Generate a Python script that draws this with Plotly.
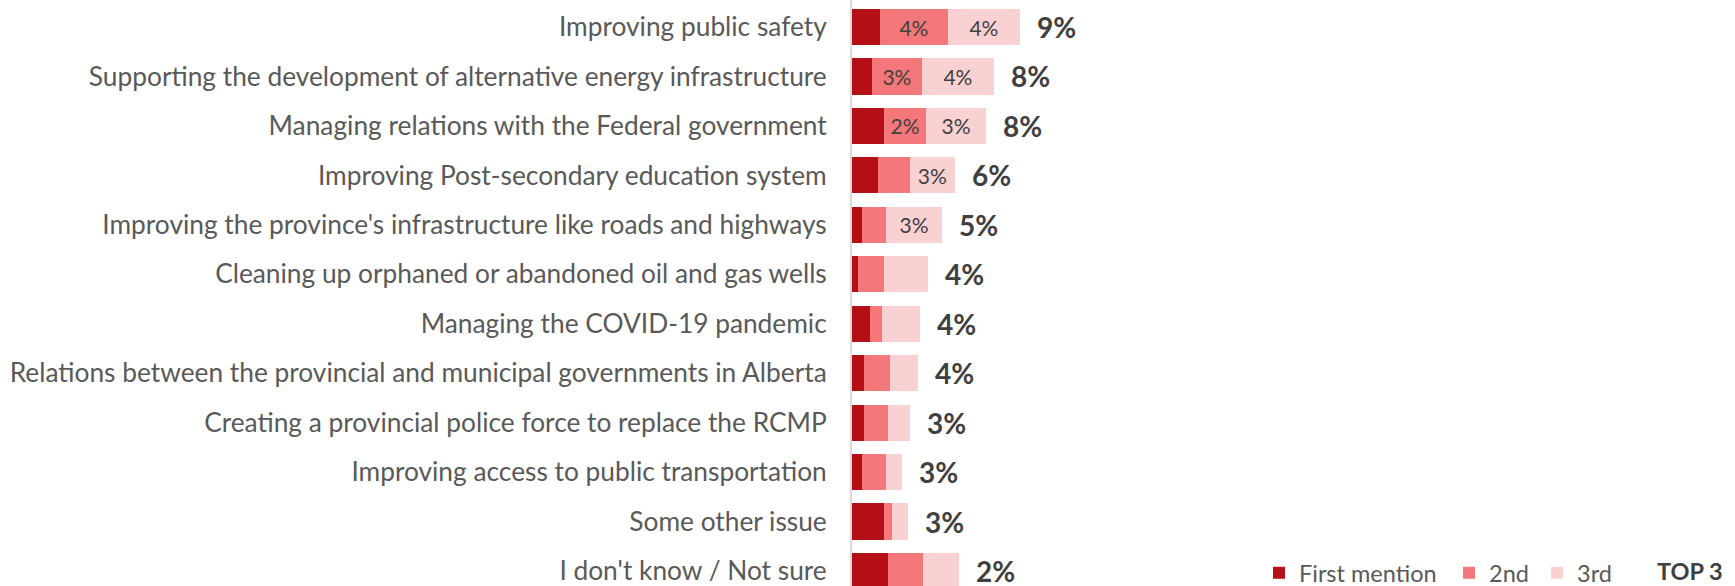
import plotly.graph_objects as go

categories = [
    "Improving public safety",
    "Supporting the development of alternative energy infrastructure",
    "Managing relations with the Federal government",
    "Improving Post-secondary education system",
    "Improving the province's infrastructure like roads and highways",
    "Cleaning up orphaned or abandoned oil and gas wells",
    "Managing the COVID-19 pandemic",
    "Relations between the provincial and municipal governments in Alberta",
    "Creating a provincial police force to replace the RCMP",
    "Improving access to public transportation",
    "Some other issue",
    "I don't know / Not sure",
]
first_mention = [1.57, 1.12, 1.80, 1.46, 0.56, 0.34, 1.01, 0.67, 0.67, 0.56, 1.80, 2.0]
second_mention = [3.82, 2.81, 2.36, 1.80, 1.35, 1.46, 0.67, 1.46, 1.35, 1.35, 0.45, 2.0]
third_mention = [4.04, 4.04, 3.37, 2.50, 3.15, 2.47, 2.13, 1.57, 1.24, 0.90, 0.90, 2.0]
second_labels = ["4%", "3%", "2%", "", "", "", "", "", "", "", "", ""]
third_labels = ["4%", "4%", "3%", "3%", "3%", "", "", "", "", "", "", ""]
top3_labels = ["9%", "8%", "8%", "6%", "5%", "4%", "4%", "4%", "3%", "3%", "3%", "2%"]
series_names = ["First mention", "2nd", "3rd"]

C1, C2, C3 = "#B50F17", "#F4777A", "#FAD1D3"
FONT = "Lato"
W, H = 1735, 586
LEFT = 852
PX_PER_PCT = 17.8

fig = go.Figure()
fig.add_trace(go.Bar(y=categories, x=first_mention, orientation="h", name=series_names[0],
                     marker=dict(color=C1, line_width=0), width=0.73, legend="legend"))
fig.add_trace(go.Bar(y=categories, x=second_mention, orientation="h", name=series_names[1],
                     marker=dict(color=C2, line_width=0), width=0.73, legend="legend2",
                     text=second_labels, textposition="inside", insidetextanchor="middle",
                     textangle=0, constraintext="none",
                     textfont=dict(family=FONT, size=21, color="#404040")))
fig.add_trace(go.Bar(y=categories, x=third_mention, orientation="h", name=series_names[2],
                     marker=dict(color=C3, line_width=0), width=0.73, legend="legend3",
                     text=third_labels, textposition="inside", insidetextanchor="middle",
                     textangle=0, constraintext="none",
                     textfont=dict(family=FONT, size=21, color="#404040")))

totals = [a + b + c for a, b, c in zip(first_mention, second_mention, third_mention)]
for cat, tot, lab in zip(categories, totals, top3_labels):
    fig.add_annotation(x=tot, y=cat, text=lab, showarrow=False, xanchor="left",
                       xshift=15, font=dict(family=FONT, size=28, color="#404040", weight="bold"))

fig.add_annotation(xref="paper", yref="paper",
                   x=(1655 - LEFT) / (W - LEFT), y=(H - 571) / H,
                   xanchor="left", yanchor="middle", text="TOP 3", showarrow=False,
                   font=dict(family=FONT, size=23.5, color="#404040", weight="bold"))


def leg(px_left):
    return dict(orientation="h", x=(px_left - LEFT) / (W - LEFT), y=(H - 573) / H,
                xanchor="left", yanchor="middle",
                font=dict(family=FONT, size=23.5, color="#595959"),
                bgcolor="rgba(0,0,0,0)")


fig.update_layout(
    width=W, height=H,
    margin=dict(l=LEFT, r=0, t=0, b=0, autoexpand=False),
    barmode="stack",
    bargap=0.27,
    plot_bgcolor="white", paper_bgcolor="white",
    font=dict(family=FONT, color="#595959"),
    showlegend=True,
    legend=leg(1259),
    legend2=leg(1449),
    legend3=leg(1537),
    xaxis=dict(range=[0, (W - LEFT) / PX_PER_PCT], showgrid=False, zeroline=False,
               showticklabels=False, showline=False),
    yaxis=dict(type="category", categoryorder="array", categoryarray=categories,
               range=[11.304, -0.546], showgrid=False, zeroline=False,
               showline=True, linecolor="#D9D9D9", linewidth=2,
               ticks="", ticklabelstandoff=18,
               tickfont=dict(family=FONT, size=26.3, color="#595959")),
)

fig.write_html("out.html", config={"displayModeBar": False},
               post_script="document.body.style.margin='0';")
